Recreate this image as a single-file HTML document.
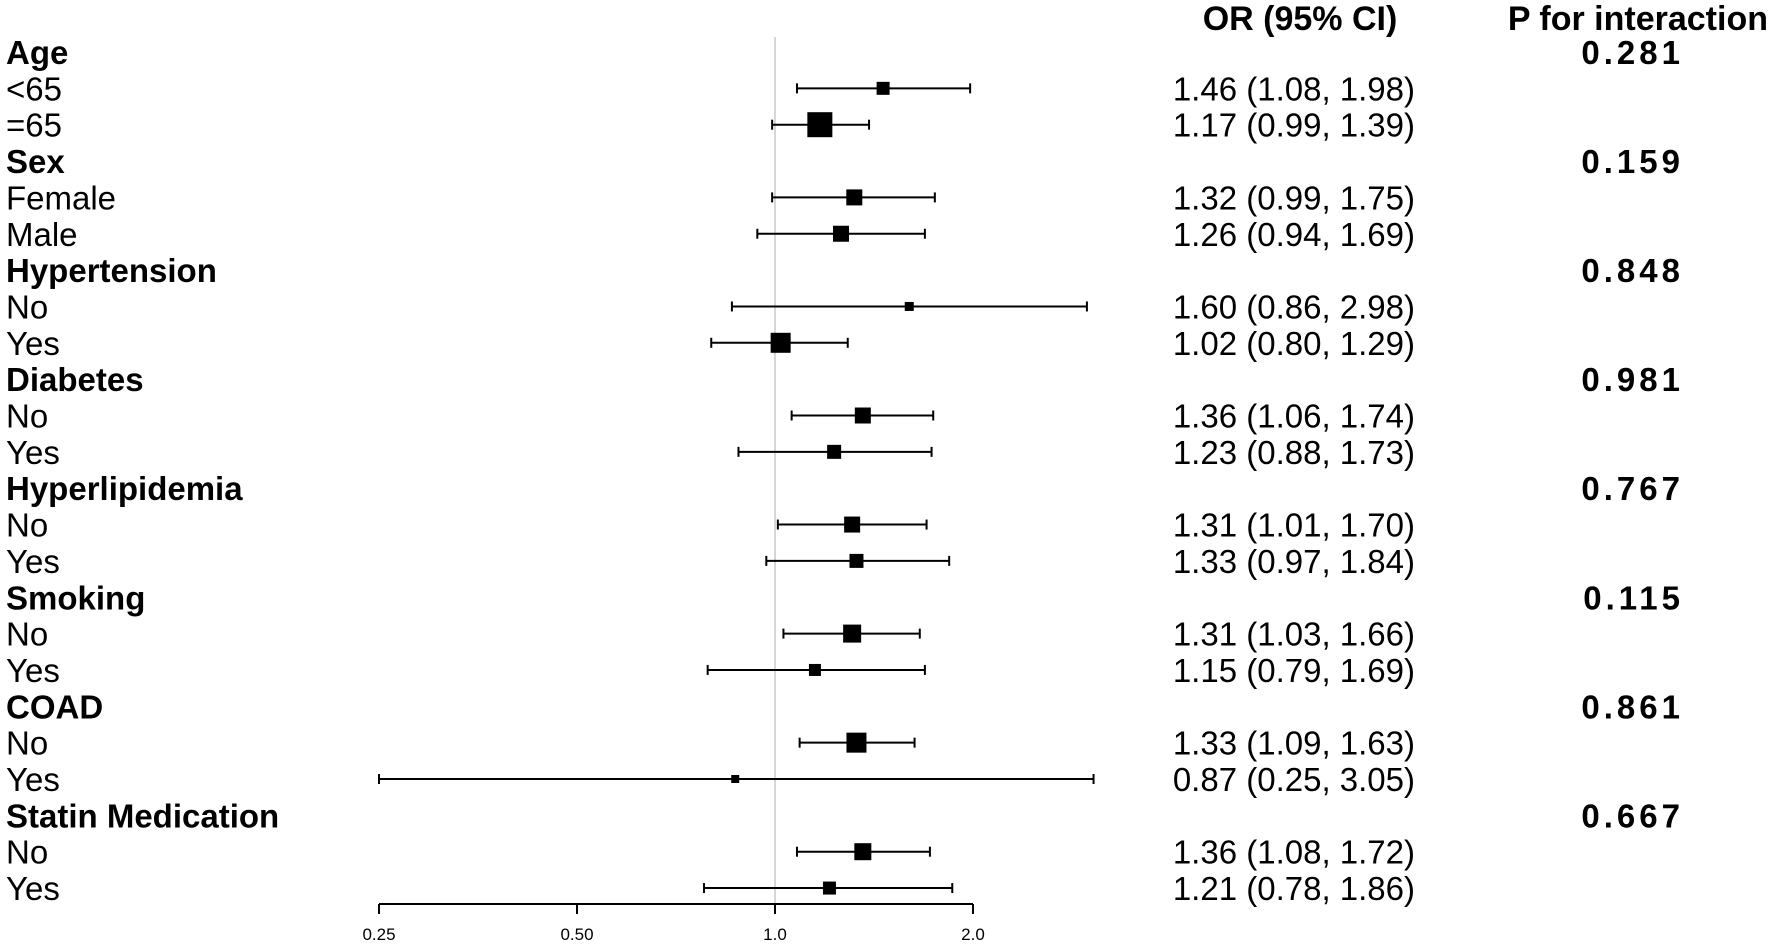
<!DOCTYPE html>
<html><head><meta charset="utf-8"><style>
html,body{margin:0;padding:0;background:#fff;}
svg{display:block;font-family:"Liberation Sans",Arial,sans-serif;}
</style></head><body>
<svg id="chart" width="1772" height="944" viewBox="0 0 1772 944">
<line x1="775" y1="37" x2="775" y2="904" stroke="#c8c8c8" stroke-width="1.5"/>
<text x="1300" y="30" font-size="34" font-weight="bold" text-anchor="middle">OR (95% CI)</text>
<text x="1768" y="30" font-size="34" font-weight="bold" text-anchor="end">P for interaction</text>
<g id="rows"></g>
<g id="axis"></g>
</svg>
<script>
const labels=["Age","<65","=65","Sex","Female","Male","Hypertension","No","Yes","Diabetes","No","Yes","Hyperlipidemia","No","Yes","Smoking","No","Yes","COAD","No","Yes","Statin Medication","No","Yes"];
const isHeader=[1,0,0,1,0,0,1,0,0,1,0,0,1,0,0,1,0,0,1,0,0,1,0,0];
const pValues=["0.281","","","0.159","","","0.848","","","0.981","","","0.767","","","0.115","","","0.861","","","0.667","",""];
const orVals=[null,1.46,1.17,null,1.32,1.26,null,1.60,1.02,null,1.36,1.23,null,1.31,1.33,null,1.31,1.15,null,1.33,0.87,null,1.36,1.21];
const lowVals=[null,1.08,0.99,null,0.99,0.94,null,0.86,0.80,null,1.06,0.88,null,1.01,0.97,null,1.03,0.79,null,1.09,0.25,null,1.08,0.78];
const highVals=[null,1.98,1.39,null,1.75,1.69,null,2.98,1.29,null,1.74,1.73,null,1.70,1.84,null,1.66,1.69,null,1.63,3.05,null,1.72,1.86];
const boxSizes=[0,13,25,0,16,16,0,9,20,0,16,14,0,16,14,0,18,12,0,20,8,0,17,13];
const ticks=[0.25,0.5,1.0,2.0];
const tickLabels=["0.25","0.50","1.0","2.0"];

const NS="http://www.w3.org/2000/svg";
const x=v=>775+198*Math.log2(v);
const y=i=>52+i*36.35;
function mk(tag,attrs,parent,text){const e=document.createElementNS(NS,tag);for(const k in attrs)e.setAttribute(k,attrs[k]);if(text!=null)e.textContent=text;parent.appendChild(e);return e;}
const rows=document.getElementById('rows');
labels.forEach((lab,i)=>{
  const cy=y(i);
  const t=mk('text',{x:6,y:cy+12,'font-size':33,'font-weight':isHeader[i]?'bold':'normal'},rows,lab);
  
  
  if(pValues[i]){const p=mk('text',{x:1684,y:cy+12,'font-size':33,'font-weight':'bold','text-anchor':'end','letter-spacing':4},rows,pValues[i]);
    
    }
  if(orVals[i]!=null){
    const s=orVals[i].toFixed(2)+" ("+lowVals[i].toFixed(2)+", "+highVals[i].toFixed(2)+")";
    const o=mk('text',{x:1415,y:cy+12,'font-size':33,'text-anchor':'end'},rows,s);
    
    
    const g=mk('g',{},rows);
    
    
    const x1=x(lowVals[i]),x2=x(highVals[i]);
    mk('line',{x1:x1,x2:x2,y1:cy,y2:cy,stroke:'#000','stroke-width':2},g);
    mk('line',{x1:x1,x2:x1,y1:cy-5,y2:cy+5,stroke:'#000','stroke-width':2},g);
    mk('line',{x1:x2,x2:x2,y1:cy-5,y2:cy+5,stroke:'#000','stroke-width':2},g);
    const b=boxSizes[i];
    mk('rect',{x:x(orVals[i])-b/2,y:cy-b/2,width:b,height:b,fill:'#000'},g);
  }
});
const ax=document.getElementById('axis');
mk('line',{x1:x(ticks[0]),x2:x(ticks[ticks.length-1]),y1:904,y2:904,stroke:'#000','stroke-width':2},ax);
ticks.forEach((t,k)=>{
  mk('line',{x1:x(t),x2:x(t),y1:904,y2:914,stroke:'#000','stroke-width':2},ax);
  const tl=mk('text',{x:x(t),y:940,'font-size':17,'text-anchor':'middle'},ax,tickLabels[k]);
  
  
});
</script>
</body></html>
